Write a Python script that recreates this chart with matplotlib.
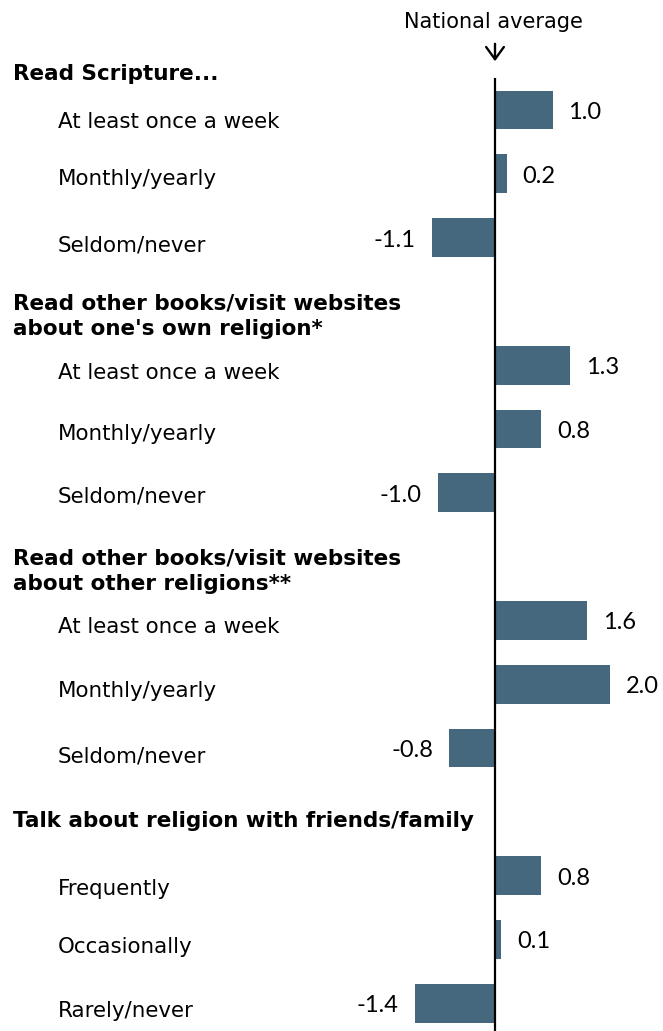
import matplotlib
matplotlib.use("Agg")
import matplotlib.pyplot as plt

# Group headings and the responses within each group
groups = [
    "Read Scripture...",
    "Read other books/visit websites\nabout one's own religion*",
    "Read other books/visit websites\nabout other religions**",
    "Talk about religion with friends/family",
]
categories = [
    ["At least once a week", "Monthly/yearly", "Seldom/never"],
    ["At least once a week", "Monthly/yearly", "Seldom/never"],
    ["At least once a week", "Monthly/yearly", "Seldom/never"],
    ["Frequently", "Occasionally", "Rarely/never"],
]
values = [
    [1.0, 0.2, -1.1],
    [1.3, 0.8, -1.0],
    [1.6, 2.0, -0.8],
    [0.8, 0.1, -1.4],
]

BAR_COLOR = "#45687f"
W, H = 663, 1031
fig = plt.figure(figsize=(W / 100, H / 100), dpi=100)
ax = fig.add_axes([0, 0, 1, 1])

# pixel layout helpers
px_per_unit = 57.5
zero_px = 495
row_px = 63.8
row0_px = 46.2


def ry(py):
    """Convert a vertical pixel position into row units."""
    return (py - row0_px) / row_px


def vx(px):
    """Convert a horizontal pixel position into value units."""
    return (px - zero_px) / px_per_unit


ax.set_xlim(vx(0), vx(W))
ax.set_ylim(ry(H), ry(0))
ax.axis("off")

label_font = "DejaVu Sans"
num_font = "Lato"
HEAD = 15.5
TXT = 15.4
NUM = 17

# heading baseline relative to the first bar of its group (pixels)
header_gap = [30, 30, 30, 49]
header_line = 26
# category label baselines relative to bar centre (pixels)
label_drop = [[18, 11, 14], [14, 11, 10], [13, 13, 14], [19, 14, 14]]

for g, (title, cats, vals) in enumerate(zip(groups, categories, values)):
    rows = [4 * g + 1 + i for i in range(3)]
    first_py = row0_px + rows[0] * row_px
    lines = title.split("\n")
    for k, line in enumerate(lines):
        base = first_py - header_gap[g] - (len(lines) - 1 - k) * header_line
        ax.text(vx(13), ry(base), line, fontsize=HEAD, fontweight="bold",
                family=label_font, ha="left", va="baseline")
    ax.barh(rows, vals, height=0.61, color=BAR_COLOR, zorder=2)
    for i, (r, c, v) in enumerate(zip(rows, cats, vals)):
        bar_py = row0_px + r * row_px
        ax.text(vx(58), ry(bar_py + label_drop[g][i]), c,
                fontsize=TXT, family=label_font, ha="left", va="baseline")
        off = 16 / px_per_unit
        ny = ry(bar_py + 9)
        if v >= 0:
            ax.text(v + off, ny, f"{v:.1f}", fontsize=NUM, family=num_font,
                    ha="left", va="baseline")
        else:
            ax.text(v - off, ny, f"{v:.1f}", fontsize=NUM, family=num_font,
                    ha="right", va="baseline")

# National average reference line
ax.plot([0, 0], [ry(78), ry(H)], color="black", lw=1.6, zorder=3,
        solid_capstyle="butt")
ax.text(vx(493), ry(28), "National average", fontsize=15,
        family=label_font, ha="center", va="baseline")
ax.annotate("", xy=(0, ry(64)), xytext=(0, ry(41)),
            arrowprops=dict(arrowstyle="->,head_length=0.55,head_width=0.4",
                            lw=1.7, color="black", mutation_scale=16))

fig.savefig("out.png", dpi=100)
